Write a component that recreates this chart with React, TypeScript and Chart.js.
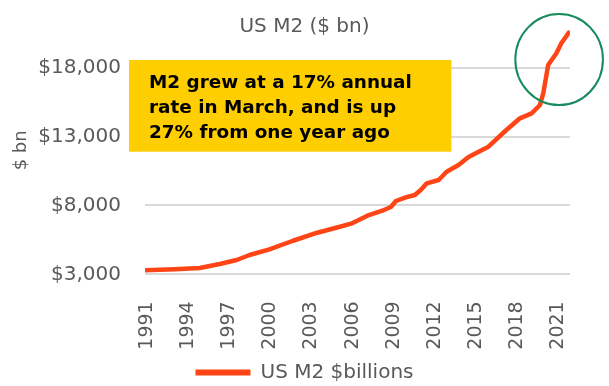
import React, { useEffect, useRef } from 'react';
import { Chart, registerables } from 'chart.js';

Chart.register(...registerables);

// ---- data ----
const years = [
  1990.85, 1993.03, 1994.85, 1996.3, 1997.54, 1998.48, 1999.93, 2001.6, 2003.42, 2004.8,
  2005.96, 2007.19, 2008.28, 2008.79, 2009.16, 2009.88, 2010.54, 2010.97, 2011.41, 2012.28,
  2012.86, 2013.73, 2014.46, 2015.91, 2017.22, 2018.21, 2019.06, 2019.67, 2019.91, 2020.27,
  2020.87, 2021.23, 2021.77,
];
const m2Billions = [
  3290, 3370, 3457, 3748, 4038, 4401, 4815, 5418, 6020, 6383,
  6703, 7305, 7668, 7886, 8322, 8590, 8757, 9120, 9607, 9846,
  10449, 10935, 11516, 12264, 13476, 14326, 14689, 15291, 16141, 18196,
  19045, 19771, 20540,
];
const xTickYears = [1991, 1994, 1997, 2000, 2003, 2006, 2009, 2012, 2015, 2018, 2021];
const yTickValues = [3000, 8000, 13000, 18000];
const chartTitle = 'US M2 ($ bn)';
const yAxisTitle = '$ bn';
const seriesLabel = 'US M2 $billions';
const calloutLines = ['M2 grew at a 17% annual', 'rate in March, and is up', '27% from one year ago'];
const circleCenter = { year: 2021.07, value: 18594 };

const FONT = '"DejaVu Sans", sans-serif';
const GREY = '#595959';
const RED = '#ff4515';
const YELLOW = '#ffce00';
const GREEN = '#168b5c';
const GRID = '#d9d9d9';

export default function App() {
  const ref = useRef<HTMLCanvasElement>(null);

  useEffect(() => {
    document.body.style.margin = '0';
    const canvas = ref.current;
    if (!canvas) return;

    const annotations = {
      id: 'annotations',
      afterDraw(chart: any) {
        const { ctx, chartArea: ca, scales } = chart;
        ctx.save();
        // chart title
        ctx.fillStyle = GREY;
        ctx.font = `20px ${FONT}`;
        ctx.textAlign = 'center';
        ctx.textBaseline = 'middle';
        ctx.fillText(chartTitle, chart.width / 2, ca.top);

        // yellow callout box
        const bx = ca.left - 16;
        const by = ca.top + 33.6;
        ctx.fillStyle = YELLOW;
        ctx.fillRect(bx, by, 322.4, 91.7);
        ctx.fillStyle = '#000000';
        ctx.font = `bold 18.4px ${FONT}`;
        ctx.textAlign = 'left';
        ctx.textBaseline = 'alphabetic';
        calloutLines.forEach((t, i) => ctx.fillText(t, bx + 20, by + 28 + i * 25));

        // green highlight circle
        const cx = scales.x.getPixelForValue(circleCenter.year);
        const cy = scales.y.getPixelForValue(circleCenter.value);
        ctx.strokeStyle = GREEN;
        ctx.lineWidth = 2;
        ctx.beginPath();
        ctx.ellipse(cx, cy, 43.8, 45.5, 0, 0, Math.PI * 2);
        ctx.stroke();
        ctx.restore();
      },
    };

    const chart = new Chart(canvas, {
      type: 'line',
      data: {
        datasets: [
          {
            label: seriesLabel,
            data: years.map((y, i) => ({ x: y, y: m2Billions[i] })),
            borderColor: RED,
            backgroundColor: RED,
            borderWidth: 4.5,
            pointRadius: 0,
            tension: 0,
            borderJoinStyle: 'round',
            borderCapStyle: 'round',
          },
        ],
      },
      options: {
        responsive: false,
        animation: false,
        layout: { autoPadding: false, padding: { top: 26.4, left: 0, right: 0, bottom: -6.5 } },
        plugins: {
          title: { display: false },
          tooltip: { enabled: false },
          legend: {
            position: 'bottom',
            labels: {
              color: GREY,
              font: { family: FONT, size: 20 },
              boxWidth: 55,
              boxHeight: 6,
              padding: 10,
              generateLabels: (c: any) => {
                const items = (Chart.defaults.plugins.legend.labels as any).generateLabels(c);
                items.forEach((it: any) => {
                  it.lineWidth = 0;
                  it.fillStyle = RED;
                  it.strokeStyle = RED;
                });
                return items;
              },
            },
          },
        },
        scales: {
          x: {
            type: 'linear',
            min: 1990.85,
            max: 2021.86,
            grid: { display: false, drawTicks: false },
            border: { display: false },
            afterBuildTicks: (s: any) => {
              s.ticks = xTickYears.map((v) => ({ value: v }));
            },
            afterFit: (s: any) => {
              s.height = 78.2;
            },
            ticks: {
              autoSkip: false,
              minRotation: 90,
              maxRotation: 90,
              padding: 27,
              color: GREY,
              font: { family: FONT, size: 19 },
              callback: (v: any) => String(v),
            },
          },
          y: {
            type: 'linear',
            min: 3000,
            max: 21000,
            grid: { color: GRID, lineWidth: 2, drawTicks: true, tickLength: 24, tickColor: 'rgba(0,0,0,0)' },
            border: { display: false },
            afterBuildTicks: (s: any) => {
              s.ticks = yTickValues.map((v) => ({ value: v }));
            },
            afterFit: (s: any) => {
              s.width = 145;
            },
            title: {
              display: true,
              text: yAxisTitle,
              color: GREY,
              font: { family: FONT, size: 18 },
              padding: { top: 11, bottom: 0 },
            },
            ticks: {
              padding: 0,
              color: GREY,
              font: { family: FONT, size: 20 },
              callback: (v: any) => '$' + Number(v).toLocaleString('en-US'),
            },
          },
          yR: {
            type: 'linear',
            position: 'right',
            display: true,
            grid: { display: false },
            border: { display: false },
            ticks: { display: false },
            afterFit: (s: any) => {
              s.width = 37;
            },
          },
        },
      },
      plugins: [annotations],
    } as any);

    return () => chart.destroy();
  }, []);

  return (
    <div style={{ width: 609, height: 386, position: 'relative' }}>
      <canvas ref={ref} width={609} height={386} style={{ display: 'block' }} />
    </div>
  );
}
